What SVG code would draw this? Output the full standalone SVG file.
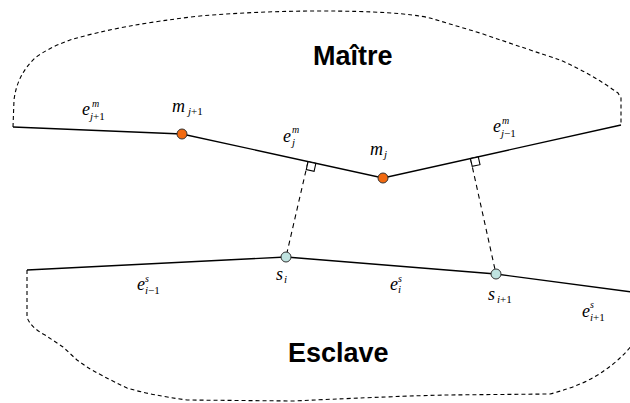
<svg xmlns="http://www.w3.org/2000/svg" width="630" height="403" viewBox="0 0 630 403">
<style>
.outline{fill:none;stroke:#000;stroke-width:1.1;stroke-dasharray:4 3}
.edge{fill:none;stroke:#000;stroke-width:1.3}
.proj{fill:none;stroke:#000;stroke-width:1.1;stroke-dasharray:5 4}
.sq{fill:#fff;stroke:#000;stroke-width:1.1}
.mnode{fill:#f26a10;stroke:#333;stroke-width:1}
.snode{fill:#bfe3e0;stroke:#333;stroke-width:1}
.title{font-family:"Liberation Sans",Arial,sans-serif;font-weight:bold;font-size:27px;fill:#000}
.lab{font-family:"Liberation Serif","Times New Roman",serif;font-style:italic;font-size:18px;fill:#000}
.sup{font-family:"Liberation Serif","Times New Roman",serif;font-style:italic;font-size:10px;fill:#000}
.sub{font-family:"Liberation Serif","Times New Roman",serif;font-style:italic;font-size:11px;fill:#000}
.up{font-style:normal}
</style>
<g id="regions">
<path class="outline" d="M13,127 L14,100 Q17,75 35,58 Q48,48 70,40 Q120,25 200,16 Q260,11 320,11 Q400,11 430,18 L480,33 Q530,50 560,60 Q590,73 618,93 L621,98 L621,124"/>
<path class="outline" d="M27,270 L27,317 Q30,327 45,335 L63,347 L77,360 L87,367 Q100,375 127,388 Q150,395 187,400 L293,401 Q400,396 445,395 L550,394 Q585,385 605,370 Q620,360 632,345"/>
<text class="title" x="313" y="65">Maître</text>
<text class="title" x="288" y="362">Esclave</text>
</g>
<g id="connectors">
<polyline class="edge" points="13,127 182,134 383,178 621,125"/>
<polyline class="edge" points="27,270 286,257 496,274 632,292"/>
<line class="proj" x1="308" y1="161.8" x2="286" y2="257"/>
<line class="proj" x1="470.5" y1="158.6" x2="496" y2="274"/>
<polygon class="sq" points="308,161.8 315.8,163.5 314.1,171.3 306.3,169.6"/>
<polygon class="sq" points="470.5,158.6 478.3,156.9 480,164.7 472.2,166.4"/>
</g>
<g id="m_j1">
<circle class="mnode" cx="182" cy="134" r="5"/>
<text class="lab" x="172" y="112">m</text><text class="sub" x="188" y="115">j<tspan class="up">+1</tspan></text>
</g>
<g id="m_j">
<circle class="mnode" cx="383" cy="178" r="5"/>
<text class="lab" x="370" y="155">m</text><text class="sub" x="384" y="158">j</text>
</g>
<g id="s_i">
<circle class="snode" cx="286" cy="257" r="5"/>
<text class="lab" x="276" y="280">s</text><text class="sub" x="284" y="283">i</text>
</g>
<g id="s_i1">
<circle class="snode" cx="496" cy="274" r="5"/>
<text class="lab" x="488" y="300">s</text><text class="sub" x="497" y="303">i<tspan class="up">+1</tspan></text>
</g>
<g id="edge-labels">
<text class="lab" x="82" y="115">e</text><text class="sup" x="92" y="107">m</text><text class="sub" x="90" y="120">j<tspan class="up">+1</tspan></text>
<text class="lab" x="283" y="142">e</text><text class="sup" x="292" y="133">m</text><text class="sub" x="292" y="146">j</text>
<text class="lab" x="493" y="132">e</text><text class="sup" x="502" y="124">m</text><text class="sub" x="501" y="137">j<tspan class="up">−1</tspan></text>
<text class="lab" x="137" y="290">e</text><text class="sup" x="145" y="282">s</text><text class="sub" x="145" y="294">i<tspan class="up">−1</tspan></text>
<text class="lab" x="390" y="290">e</text><text class="sup" x="398" y="282">s</text><text class="sub" x="398" y="293">i</text>
<text class="lab" x="582" y="317">e</text><text class="sup" x="590" y="308">s</text><text class="sub" x="590" y="321">i<tspan class="up">+1</tspan></text>
</g>
</svg>
